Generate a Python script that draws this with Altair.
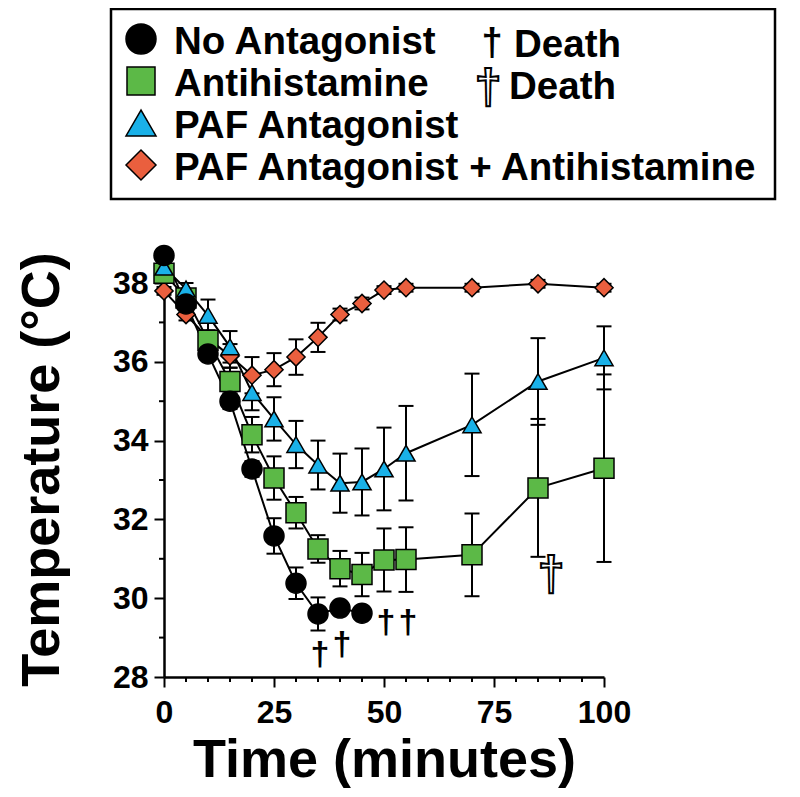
import altair as alt
import pandas as pd

FONT = "Liberation Sans"

# ---------------- data ----------------
series_names = ["No Antagonist", "Antihistamine", "PAF Antagonist",
                "PAF Antagonist + Antihistamine"]
series_shapes = ["circle", "square", "triangle-up", "diamond"]
series_colors = ["#000000", "#5cb947", "#1ab1e8", "#ea5f3e"]
series_sizes = [400, 400, 330, 330]

time_no = [0, 5, 10, 15, 20, 25, 30, 35, 40, 45]
temp_no = [38.7, 37.47, 36.2, 35.0, 33.28, 31.58, 30.38, 29.6, 29.75, 29.62]
err_no = [0.1, 0.15, 0.15, 0.2, 0.2, 0.45, 0.4, 0.42, 0.15, 0.15]

time_all = [0, 5, 10, 15, 20, 25, 30, 35, 40, 45, 50, 55, 70, 85, 100]
temp_antihist = [38.25, 37.62, 36.55, 35.5, 34.15, 33.05, 32.17, 31.25, 30.75,
                 30.6, 30.97, 30.98, 31.1, 32.8, 33.3]
err_antihist = [0.1, 0.15, 0.2, 0.35, 0.45, 0.55, 0.4, 0.35, 0.45, 0.55, 0.8,
                0.82, 1.05, 1.75, 2.38]
temp_paf = [38.4, 37.85, 37.18, 36.38, 35.22, 34.55, 33.9, 33.38, 32.92, 32.95,
            33.28, 33.68, 34.4, 35.5, 36.1]
err_paf = [0.1, 0.15, 0.4, 0.4, 0.45, 0.55, 0.6, 0.62, 0.75, 0.85, 1.05, 1.2,
           1.3, 1.1, 0.8]
temp_both = [37.8, 37.2, 36.6, 36.15, 35.66, 35.8, 36.12, 36.62, 37.2, 37.48,
             37.82, 37.88, 37.88, 37.98, 37.88]
err_both = [0.1, 0.15, 0.2, 0.3, 0.46, 0.42, 0.45, 0.37, 0.15, 0.15, 0.1, 0.1,
            0.1, 0.1, 0.1]

death_time = [35, 40, 50, 55]
death_temp = [28.3, 28.55, 29.12, 29.12]
death_open_time = [88]
death_open_temp = [30.2]

x_major = [0, 25, 50, 75, 100]
x_minor = [5, 10, 15, 20, 30, 35, 40, 45, 55, 60, 65, 70, 80, 85, 90, 95]
y_major = [28, 30, 32, 34, 36, 38]
y_minor = [29, 31, 33, 35, 37]

legend_death_labels = ["Death", "Death"]
dagger = ["\u2020"]

# ---------------- frames ----------------
frames = []
for name, t, v, e in [
    (series_names[0], time_no, temp_no, err_no),
    (series_names[1], time_all, temp_antihist, err_antihist),
    (series_names[2], time_all, temp_paf, err_paf),
    (series_names[3], time_all, temp_both, err_both),
]:
    frames.append(pd.DataFrame({"series": name, "time": t, "temp": v, "err": e}))
df = pd.concat(frames, ignore_index=True)
df["lo"] = df["temp"] - df["err"]
df["hi"] = df["temp"] + df["err"]

W, H = 440, 394

x_scale = alt.Scale(domain=[0, 100], nice=False, zero=False)
y_scale = alt.Scale(domain=[28, 38], nice=False, zero=False)

x_axis = alt.Axis(values=x_major, tickSize=10, tickWidth=2, tickColor="black",
                  domainWidth=2.5, domainColor="black", grid=False,
                  labelFont=FONT, labelFontSize=32, labelFontWeight="bold",
                  labelColor="black", labelPadding=10, labelFlush=False,
                  title="Time (minutes)", titleFont=FONT, titleFontSize=54,
                  titleFontWeight="bold", titleColor="black",
                  titleX=220, titleY=99, titleAlign="center",
                  titleBaseline="alphabetic")
y_axis = alt.Axis(values=y_major, tickSize=10, tickWidth=2, tickColor="black",
                  domainWidth=2.5, domainColor="black", grid=False,
                  labelFont=FONT, labelFontSize=32, labelFontWeight="bold",
                  labelColor="black", labelPadding=6, labelFlush=False,
                  title="Temperature (°C)", titleFont=FONT, titleFontSize=54,
                  titleFontWeight="bold", titleColor="black",
                  titleX=-106, titleY=186, titleAlign="center",
                  titleBaseline="alphabetic")


def X(field):
    return alt.X(field, type="quantitative", scale=x_scale, axis=x_axis)


def Y(field):
    return alt.Y(field, type="quantitative", scale=y_scale, axis=y_axis)


layers = []

# minor ticks
layers.append(alt.Chart(pd.DataFrame({"v": y_minor})).mark_rule(
    color="black", strokeWidth=2).encode(
    y=Y("v"), x=alt.value(-5), x2=alt.value(0)))
layers.append(alt.Chart(pd.DataFrame({"v": x_minor})).mark_rule(
    color="black", strokeWidth=2).encode(
    x=X("v"), y=alt.value(H), y2=alt.value(H + 5)))

# error bars
layers.append(alt.Chart(df).mark_rule(color="black", strokeWidth=2).encode(
    x=X("time"), y=Y("lo"), y2="hi"))
for f in ["lo", "hi"]:
    layers.append(alt.Chart(df).mark_point(
        shape="M-1,0L1,0", size=225, filled=False, color="black",
        strokeWidth=2, opacity=1).encode(x=X("time"), y=Y(f)))

# connecting lines
layers.append(alt.Chart(df).mark_line(color="black", strokeWidth=2).encode(
    x=X("time"), y=Y("temp"), detail="series:N", order="time:Q"))

# markers (drawing order: diamond, square, triangle, circle)
for i in [3, 1, 2, 0]:
    sub = df[df["series"] == series_names[i]]
    layers.append(alt.Chart(sub).mark_point(
        shape=series_shapes[i], filled=True, fill=series_colors[i],
        stroke="black", strokeWidth=1.5, size=series_sizes[i],
        opacity=1).encode(x=X("time"), y=Y("temp")))

# death markers
layers.append(alt.Chart(pd.DataFrame({"time": death_time, "temp": death_temp,
                                      "t": dagger * len(death_time)})).mark_text(
    font=FONT, fontSize=34, fontWeight="bold", color="black", align="center",
    baseline="alphabetic", dx=2).encode(x=X("time"), y=Y("temp"), text="t:N"))
layers.append(alt.Chart(pd.DataFrame({"time": death_open_time,
                                      "temp": death_open_temp,
                                      "t": dagger})).mark_text(
    font=FONT, fontSize=48, fontWeight="bold", fill="white", stroke="black",
    strokeWidth=2, align="center", baseline="alphabetic").encode(
    x=X("time"), y=Y("temp"), text="t:N"))

# ---------------- legend (drawn in the top padding) ----------------
one = pd.DataFrame({"k": [0]})
layers.append(alt.Chart(one).mark_rect(
    fill="white", stroke="black", strokeWidth=2.5).encode(
    x=alt.value(-53), x2=alt.value(611), y=alt.value(-274), y2=alt.value(-84)))

legend_marker_sizes = [900, 784, 900, 900]
marker_y = [-244, -202, -160, -118]
text_y = [-229, -187, -145, -103]
for i in range(4):
    layers.append(alt.Chart(one).mark_point(
        shape=series_shapes[i], filled=True, fill=series_colors[i],
        stroke="black", strokeWidth=1.5, size=legend_marker_sizes[i],
        opacity=1).encode(x=alt.value(-23), y=alt.value(marker_y[i])))
    layers.append(alt.Chart(pd.DataFrame({"label": [series_names[i]]})).mark_text(
        font=FONT, fontSize=38.5, fontWeight="bold", color="black", align="left",
        baseline="alphabetic").encode(
        x=alt.value(10), y=alt.value(text_y[i]), text="label:N"))

layers.append(alt.Chart(pd.DataFrame({"t": dagger})).mark_text(
    font=FONT, fontSize=38, fontWeight="bold", color="black", align="center",
    baseline="alphabetic").encode(x=alt.value(328), y=alt.value(-228), text="t:N"))
layers.append(alt.Chart(pd.DataFrame({"t": dagger})).mark_text(
    font=FONT, fontSize=48, fontWeight="bold", fill="white", stroke="black",
    strokeWidth=2, align="center", baseline="alphabetic").encode(
    x=alt.value(324), y=alt.value(-180), text="t:N"))
for j, yy, xx in [(0, -226, 350), (1, -184, 345)]:
    layers.append(alt.Chart(pd.DataFrame({"label": [legend_death_labels[j]]})).mark_text(
        font=FONT, fontSize=38.5, fontWeight="bold", color="black", align="left",
        baseline="alphabetic").encode(
        x=alt.value(xx), y=alt.value(yy), text="label:N"))

chart = alt.layer(*layers).properties(
    width=W, height=H,
    autosize=alt.AutoSizeParams(type="none"),
    padding={"left": 156, "top": 275, "right": 180, "bottom": 112},
    background="white",
).configure_view(strokeWidth=0)

chart.save("out.html", embed_options={"renderer": "svg", "actions": False})
